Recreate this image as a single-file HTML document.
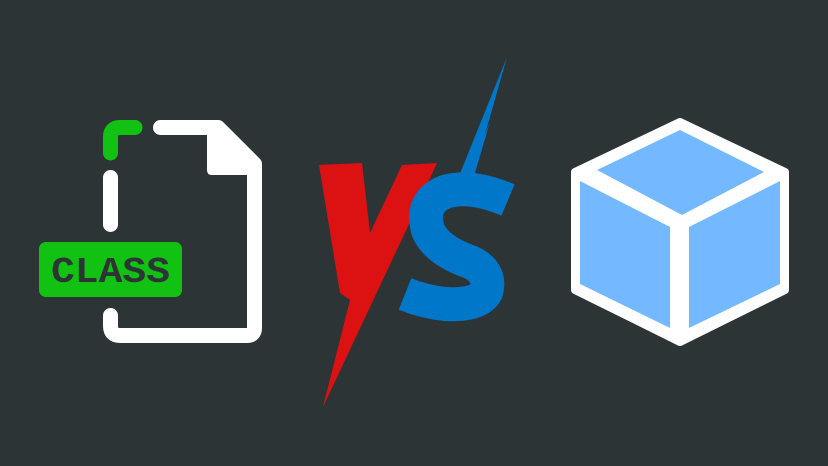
<!DOCTYPE html>
<html><head><meta charset="utf-8"><style>
html,body{margin:0;padding:0;background:#2d3436;}
svg{display:block}
</style></head><body>
<svg width="828" height="466" viewBox="0 0 828 466" xmlns="http://www.w3.org/2000/svg">
<rect width="828" height="466" fill="#2d3436"/>
<!-- File icon -->
<path d="M110.5 153 V137 Q110.5 127.5 120 127.5 H135" fill="none" stroke="#12c213" stroke-width="15" stroke-linecap="round"/>
<path d="M160.5 127.5 H218 L254.5 164 V328 Q254.5 335.5 247 335.5 H120 Q110.5 335.5 110.5 326 V315.5" fill="none" stroke="#ffffff" stroke-width="15" stroke-linecap="round" stroke-linejoin="round"/>
<path d="M207 121 H221 L261 161 V175 H212 Q207 175 207 170 Z" fill="#ffffff"/>
<line x1="110.5" y1="177.5" x2="110.5" y2="224.5" stroke="#ffffff" stroke-width="15" stroke-linecap="round"/>
<rect x="39" y="242" width="143" height="55" rx="7" fill="#12c213"/>
<text x="51" y="282" textLength="119" lengthAdjust="spacingAndGlyphs" font-family="'Liberation Mono','Courier New',monospace" font-weight="bold" font-size="36" fill="#2d3436">CLASS</text>
<!-- VS -->
<path d="M319 165 L362 163 L370 233 L402 165 L437 163 L410 222 L323 407 L350 300 L340 293 Z" fill="#dc1111"/>
<path d="M352 298 L339 345 L355 298 Z" fill="#dc1111"/>
<path d="M507 57 L470 187 L455 186 Z" fill="#0077c8"/>
<path d="M490 122 L466 183 L472 183 Z" fill="#0077c8"/>
<path d="M508 200 Q470 184 445 192 Q420 202 428 230 Q436 250 470 262 Q492 272 486 292 Q478 306 445 304 Q425 302 405 294" fill="none" stroke="#0077c8" stroke-width="34"/>
<!-- Cube -->
<path d="M680 122 L785 172 V290 L680 342 L575 290 V172 Z" fill="#ffffff" stroke="#ffffff" stroke-width="8" stroke-linejoin="round"/>
<path d="M680 130 L597 170 L682 215 L764 172 Z" fill="#74b9ff"/>
<path d="M580 181 L670 227 V328 L580 284 Z" fill="#74b9ff"/>
<path d="M689 227 L780 181 V284 L689 328 Z" fill="#74b9ff"/>
</svg>
</body></html>
